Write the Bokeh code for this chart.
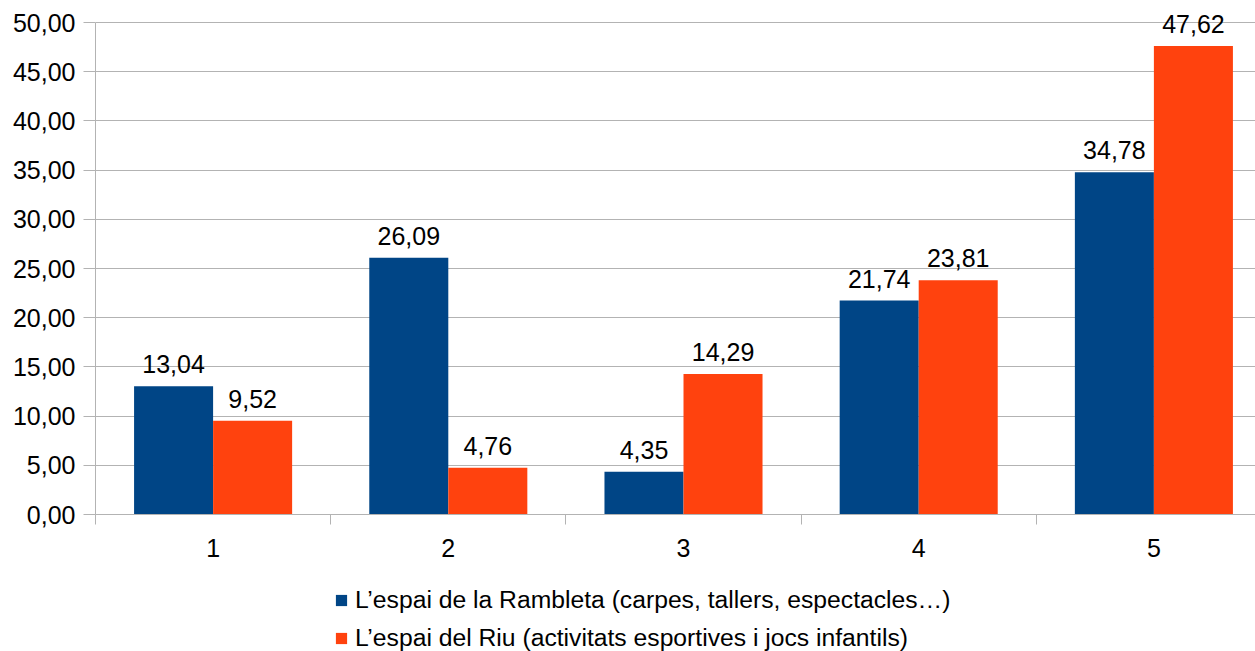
from bokeh.plotting import figure
from bokeh.layouts import column
from bokeh.models import ColumnDataSource, FixedTicker, Legend, LegendItem, Range1d
from bokeh.core.properties import value
from bokeh.embed import file_html
from bokeh.resources import INLINE

categories = ["1", "2", "3", "4", "5"]
rambleta = [13.04, 26.09, 4.35, 21.74, 34.78]
riu = [9.52, 4.76, 14.29, 23.81, 47.62]
series_names = ["L\u2019espai de la Rambleta (carpes, tallers, espectacles\u2026)",
                "L\u2019espai del Riu (activitats esportives i jocs infantils)"]
y_ticks = [0, 5, 10, 15, 20, 25, 30, 35, 40, 45, 50]

BLUE = "#004586"
ORANGE = "#ff420e"
GRID = "#b3b3b3"
FONT = "Liberation Sans"
FS = "25px"

xs = list(range(1, len(categories) + 1))
bw = 0.336

def fmt(v):
    return f"{v:.2f}".replace(".", ",")

src = ColumnDataSource(dict(
    x1=[x - bw / 2 for x in xs], x2=[x + bw / 2 for x in xs],
    a=rambleta, b=riu,
    la=[fmt(v) for v in rambleta], lb=[fmt(v) for v in riu],
))

p = figure(width=1255, height=575, output_backend="svg", toolbar_location=None,
           x_range=Range1d(0.5, 5.432), y_range=Range1d(0, 51.22),
           min_border_left=95, min_border_top=10, min_border_right=0, min_border_bottom=61)
p.outline_line_color = None
p.xgrid.grid_line_color = None
p.ygrid.grid_line_color = GRID
p.ygrid.ticker = FixedTicker(ticks=y_ticks)

r1 = p.vbar(x="x1", top="a", width=bw, source=src, fill_color=BLUE, line_color=None)
r2 = p.vbar(x="x2", top="b", width=bw, source=src, fill_color=ORANGE, line_color=None)

for xcol, ycol, lcol in [("x1", "a", "la"), ("x2", "b", "lb")]:
    p.text(x=xcol, y=ycol, text=lcol, source=src, text_align="center",
           text_baseline="alphabetic", y_offset=-22, text_font=value(FONT),
           text_font_size=FS, text_color="#000000")

# axes
p.yaxis.ticker = FixedTicker(ticks=y_ticks)
p.yaxis.bounds = (0, 50)
p.yaxis.major_label_overrides = {t: fmt(t) for t in y_ticks}
p.yaxis.axis_line_color = GRID
p.yaxis.major_tick_line_color = GRID
p.yaxis.major_tick_out = 12
p.yaxis.major_tick_in = 0
p.yaxis.minor_tick_line_color = None
p.yaxis.major_label_standoff = 8
p.yaxis.major_label_text_font = FONT
p.yaxis.major_label_text_font_size = FS
p.yaxis.major_label_text_color = "#000000"

p.xaxis.ticker = FixedTicker(ticks=xs, minor_ticks=[x - 0.5 for x in xs] + [xs[-1] + 0.5])
p.xaxis.major_label_overrides = {x: c for x, c in zip(xs, categories)}
p.xaxis.axis_line_color = GRID
p.xaxis.major_tick_line_color = None
p.xaxis.major_tick_out = 0
p.xaxis.major_tick_in = 0
p.xaxis.minor_tick_line_color = GRID
p.xaxis.minor_tick_out = 10
p.xaxis.minor_tick_in = 0
p.xaxis.major_label_standoff = 14
p.xaxis.major_label_text_font = FONT
p.xaxis.major_label_text_font_size = FS
p.xaxis.major_label_text_color = "#000000"

# legend strip below the chart (proxy swatches lie outside the visible range)
lg = figure(width=1255, height=76, output_backend="svg", toolbar_location=None,
            x_range=Range1d(0, 1), y_range=Range1d(0, 1),
            x_axis_location=None, y_axis_location=None,
            min_border_left=0, min_border_top=0, min_border_right=0, min_border_bottom=0)
lg.outline_line_color = None
lg.xgrid.grid_line_color = None
lg.ygrid.grid_line_color = None
d1 = lg.vbar(x=[5], top=[1], width=0.1, fill_color=BLUE, line_color=None)
d2 = lg.vbar(x=[5], top=[1], width=0.1, fill_color=ORANGE, line_color=None)
legend = Legend(items=[LegendItem(label=series_names[0], renderers=[d1]),
                       LegendItem(label=series_names[1], renderers=[d2])],
                location=(239, -1), orientation="vertical",
                glyph_width=14, glyph_height=14, label_standoff=7, label_height=24,
                label_text_font=FONT, label_text_font_size="24.7px",
                label_text_color="#000000", spacing=10, padding=0, margin=0,
                border_line_color=None, background_fill_alpha=0)
lg.add_layout(legend, "center")

open("out.html", "w").write(file_html(column(p, lg, spacing=0), INLINE))
